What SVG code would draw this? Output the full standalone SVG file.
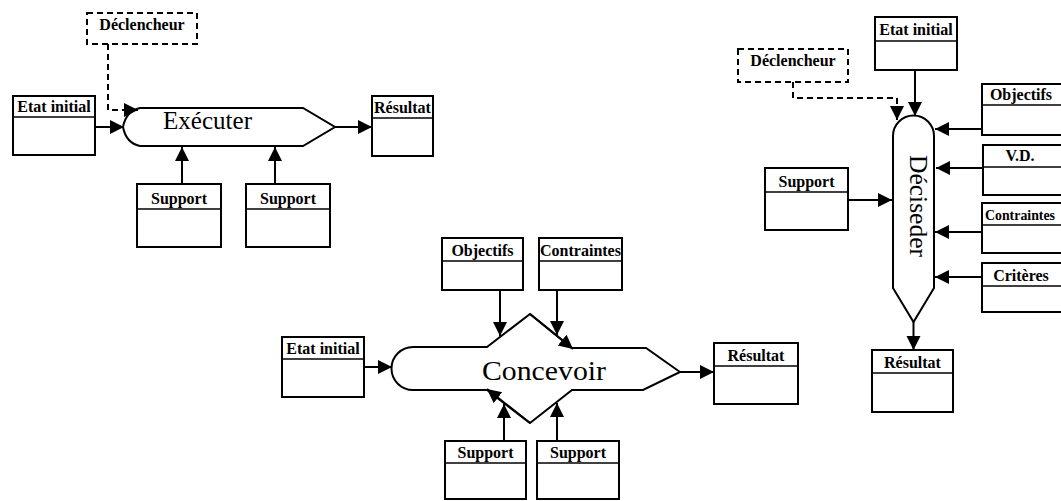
<svg xmlns="http://www.w3.org/2000/svg" width="1061" height="501" viewBox="0 0 1061 501">
  <style>
    .box { fill: #fff; stroke: #000; stroke-width: 2; }
    .div { stroke: #000; stroke-width: 1.5; }
    .dash { fill: none; stroke: #000; stroke-width: 2; stroke-dasharray: 6 4; }
    .lbl { font-family: "Liberation Serif", "Times New Roman", serif; font-size: 16px; font-weight: bold; fill: #000; }
    .proc { fill: #fff; stroke: #000; stroke-width: 2; stroke-linejoin: miter; }
    .big { font-family: "Liberation Serif", "Times New Roman", serif; font-size: 25px; fill: #000; }
    .link { fill: none; stroke: #000; stroke-width: 2; }
  </style>
  <defs>
    <marker id="arrow" markerUnits="userSpaceOnUse" markerWidth="15" markerHeight="15" refX="14" refY="7" orient="auto">
      <path d="M0,0 L14,7 L0,14 Z" fill="#000"/>
    </marker>
  </defs>
  <rect width="1061" height="501" fill="#fff"/>

  <!-- ===== Exécuter ===== -->
  <g id="exec-declencheur">
    <rect x="87" y="13" width="110" height="31" class="dash"/>
    <text x="142" y="30" class="lbl" text-anchor="middle">Déclencheur</text>
  </g>
  <g id="exec-etat-initial">
    <rect x="13" y="96" width="82" height="59" class="box"/>
    <line x1="13" y1="117" x2="95" y2="117" class="div"/>
    <text x="54" y="112" class="lbl" text-anchor="middle">Etat initial</text>
  </g>
  <g id="exec-process">
    <path class="proc" d="M140,108 L303,108 L335,127 L303,146 L140,146 Q126,143 123,127 Q126,111 140,108 Z"/>
    <text x="163" y="129" class="big" textLength="89" lengthAdjust="spacingAndGlyphs">Exécuter</text>
  </g>
  <g id="exec-resultat">
    <rect x="372" y="96" width="61" height="60" class="box"/>
    <line x1="372" y1="118" x2="433" y2="118" class="div"/>
    <text x="402.5" y="113" class="lbl" text-anchor="middle">Résultat</text>
  </g>
  <g id="exec-support-1">
    <rect x="137" y="184" width="84" height="63" class="box"/>
    <line x1="137" y1="209" x2="221" y2="209" class="div"/>
    <text x="179" y="204" class="lbl" text-anchor="middle">Support</text>
  </g>
  <g id="exec-support-2">
    <rect x="246" y="184" width="84" height="63" class="box"/>
    <line x1="246" y1="209" x2="330" y2="209" class="div"/>
    <text x="288" y="204" class="lbl" text-anchor="middle">Support</text>
  </g>

  <!-- ===== Concevoir ===== -->
  <g id="conc-objectifs">
    <rect x="442" y="238" width="81" height="52" class="box"/>
    <line x1="442" y1="261" x2="523" y2="261" class="div"/>
    <text x="482.5" y="256" class="lbl" text-anchor="middle">Objectifs</text>
  </g>
  <g id="conc-contraintes">
    <rect x="539" y="238" width="83" height="52" class="box"/>
    <line x1="539" y1="261" x2="622" y2="261" class="div"/>
    <text x="580.5" y="256" class="lbl" text-anchor="middle">Contraintes</text>
  </g>
  <g id="conc-etat-initial">
    <rect x="282" y="337" width="82" height="60" class="box"/>
    <line x1="282" y1="359" x2="364" y2="359" class="div"/>
    <text x="323" y="354" class="lbl" text-anchor="middle">Etat initial</text>
  </g>
  <g id="conc-process">
    <path class="proc" d="M413,347 L487,347 L530,314 L572,348 L646,348 L680,372 L643,390 L572,390 L530,423 L487,390 L413,390 A21.5 21.5 0 0 1 413,347 Z"/>
    <text x="482" y="380" class="big" style="font-size:27px" textLength="124" lengthAdjust="spacingAndGlyphs">Concevoir</text>
  </g>
  <g id="conc-resultat">
    <rect x="714" y="343" width="84" height="61" class="box"/>
    <line x1="714" y1="366" x2="798" y2="366" class="div"/>
    <text x="756" y="361" class="lbl" text-anchor="middle">Résultat</text>
  </g>
  <g id="conc-support-1">
    <rect x="445" y="441" width="81" height="58" class="box"/>
    <line x1="445" y1="463" x2="526" y2="463" class="div"/>
    <text x="485.5" y="458" class="lbl" text-anchor="middle">Support</text>
  </g>
  <g id="conc-support-2">
    <rect x="537" y="441" width="82" height="58" class="box"/>
    <line x1="537" y1="463" x2="619" y2="463" class="div"/>
    <text x="578" y="458" class="lbl" text-anchor="middle">Support</text>
  </g>

  <!-- ===== Décider ===== -->
  <g id="dec-declencheur">
    <rect x="738" y="49" width="110" height="33" class="dash"/>
    <text x="793" y="66" class="lbl" text-anchor="middle">Déclencheur</text>
  </g>
  <g id="dec-etat-initial">
    <rect x="875" y="17" width="82" height="53" class="box"/>
    <line x1="875" y1="41" x2="957" y2="41" class="div"/>
    <text x="916" y="35" class="lbl" text-anchor="middle">Etat initial</text>
  </g>
  <g id="dec-process">
    <path class="proc" d="M893,288 L893,136 A20.5 20.5 0 0 1 934,136 L934,288 L913.5,322 Z"/>
    <text x="0" y="0" class="big" transform="translate(910,155) rotate(90)" textLength="102" lengthAdjust="spacingAndGlyphs">Déciseder</text>
  </g>
  <g id="dec-support">
    <rect x="765" y="168" width="83" height="62" class="box"/>
    <line x1="765" y1="192" x2="848" y2="192" class="div"/>
    <text x="806.5" y="187" class="lbl" text-anchor="middle">Support</text>
  </g>
  <g id="dec-objectifs">
    <rect x="982" y="84" width="90" height="51" class="box"/>
    <line x1="982" y1="105" x2="1072" y2="105" class="div"/>
    <text x="1021" y="100" class="lbl" text-anchor="middle">Objectifs</text>
  </g>
  <g id="dec-vd">
    <rect x="983" y="145" width="90" height="50" class="box"/>
    <line x1="983" y1="167" x2="1073" y2="167" class="div"/>
    <text x="1020" y="161" class="lbl" text-anchor="middle">V.D.</text>
  </g>
  <g id="dec-contraintes">
    <rect x="982" y="203" width="90" height="50" class="box"/>
    <line x1="982" y1="225" x2="1072" y2="225" class="div"/>
    <text x="985" y="220" class="lbl" style="font-size:15px" textLength="70" lengthAdjust="spacingAndGlyphs">Contraintes</text>
  </g>
  <g id="dec-criteres">
    <rect x="982" y="263" width="90" height="49" class="box"/>
    <line x1="982" y1="286" x2="1072" y2="286" class="div"/>
    <text x="1021" y="281" class="lbl" text-anchor="middle">Critères</text>
  </g>
  <g id="dec-resultat">
    <rect x="872" y="350" width="81" height="62" class="box"/>
    <line x1="872" y1="373" x2="953" y2="373" class="div"/>
    <text x="912.5" y="368" class="lbl" text-anchor="middle">Résultat</text>
  </g>

  <!-- ===== connectors ===== -->
  <g id="connectors">
    <!-- Exécuter -->
    <path class="dash" d="M108,44 L108,110 L138,110" marker-end="url(#arrow)"/>
    <path class="link" d="M95,127 L124,127" marker-end="url(#arrow)"/>
    <path class="link" d="M335,127 L372,127" marker-end="url(#arrow)"/>
    <path class="link" d="M182,184 L182,147" marker-end="url(#arrow)"/>
    <path class="link" d="M275,184 L275,147" marker-end="url(#arrow)"/>
    <!-- Concevoir -->
    <path class="link" d="M364,367 L392,367" marker-end="url(#arrow)"/>
    <path class="link" d="M500,290 L500,336" marker-end="url(#arrow)"/>
    <path class="link" d="M557,290 L557,335" marker-end="url(#arrow)"/>
    <path class="link" d="M530,314 L573,349" marker-end="url(#arrow)"/>
    <path class="link" d="M530,423 L487,389" marker-end="url(#arrow)"/>
    <path class="link" d="M504,441 L504,404" marker-end="url(#arrow)"/>
    <path class="link" d="M557,441 L557,403" marker-end="url(#arrow)"/>
    <path class="link" d="M680,372 L714,372" marker-end="url(#arrow)"/>
    <!-- Décider -->
    <path class="dash" d="M793,82 L793,98 L897,98 L897,120" marker-end="url(#arrow)"/>
    <path class="link" d="M915,70 L915,116" marker-end="url(#arrow)"/>
    <path class="link" d="M848,200 L892,200" marker-end="url(#arrow)"/>
    <path class="link" d="M982,129 L935,129" marker-end="url(#arrow)"/>
    <path class="link" d="M983,168 L936,168" marker-end="url(#arrow)"/>
    <path class="link" d="M982,232 L935,232" marker-end="url(#arrow)"/>
    <path class="link" d="M982,277 L935,277" marker-end="url(#arrow)"/>
    <path class="link" d="M913.5,322 L913.5,350" marker-end="url(#arrow)"/>
  </g>
</svg>
